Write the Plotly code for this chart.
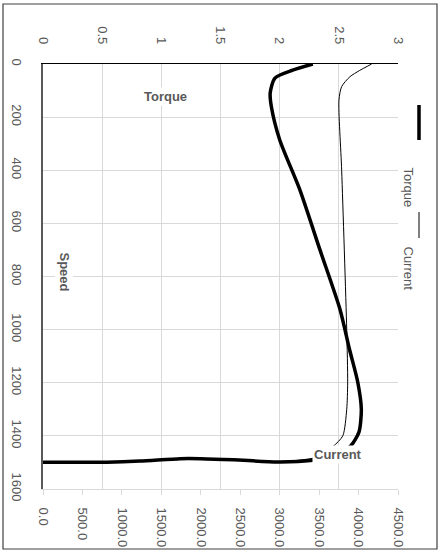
import plotly.graph_objects as go

# Torque curve (speed vs torque)
torque_speed = [0, 23, 53, 109, 161, 285, 473, 699, 924, 1074, 1198, 1300, 1386, 1438, 1462, 1476, 1493, 1498, 1490, 1486, 1486, 1495, 1499, 1499]
torque_vals = [2.28, 2.11, 1.96, 1.92, 1.93, 2.00, 2.17, 2.34, 2.51, 2.59, 2.66, 2.69, 2.67, 2.60, 2.52, 2.43, 2.26, 1.98, 1.61, 1.33, 1.16, 0.82, 0.54, 0.0]

# Current curve (speed vs current)
current_speed = [0, 25, 48, 85, 135, 400, 1000, 1200, 1300, 1400, 1440, 1480, 1491, 1497, 1491, 1486, 1486, 1495, 1499, 1499]
current_vals = [4166, 4010, 3890, 3786, 3752, 3786, 3850, 3862, 3850, 3800, 3676, 3473, 3258, 2966, 2408, 1990, 1610, 1230, 722, 0]

torque_ticks = [0, 0.5, 1, 1.5, 2, 2.5, 3]
current_ticks = [0, 500, 1000, 1500, 2000, 2500, 3000, 3500, 4000, 4500]
speed_ticks = [0, 200, 400, 600, 800, 1000, 1200, 1400, 1600]

FONT = "Liberation Sans"
GRAY = "#595959"
GRID = "#d9d9d9"

fig = go.Figure()
fig.add_trace(go.Scatter(x=torque_vals, y=torque_speed, mode="lines", name="Torque",
                         line=dict(color="black", width=3.5, shape="spline", smoothing=0.7),
                         xaxis="x", yaxis="y", showlegend=False))
fig.add_trace(go.Scatter(x=current_vals, y=current_speed, mode="lines", name="Current",
                         line=dict(color="black", width=1, shape="spline", smoothing=0.7),
                         xaxis="x2", yaxis="y", showlegend=False))

W, H = 442, 553
L, R, T, B = 43, 398, 64, 489
pw, ph = R - L, B - T

def px(p):
    return (p - L) / pw

def py(p):
    return (B - p) / ph

fig.update_layout(
    width=W, height=H,
    margin=dict(l=L, r=W - R, t=T, b=H - B, autoexpand=False),
    paper_bgcolor="white", plot_bgcolor="white",
    font=dict(family=FONT, color=GRAY, size=13),
    xaxis=dict(side="top", range=[0, 3], tickvals=torque_ticks,
               ticktext=[str(v) for v in torque_ticks],
               tickangle=90, showgrid=True, gridcolor=GRID, gridwidth=1,
               showline=True, linecolor="black", linewidth=1.2,
               ticks="", ticklabelstandoff=14, zeroline=False, automargin=False,
               tickfont=dict(family=FONT, color=GRAY, size=13)),
    xaxis2=dict(side="bottom", overlaying="x", range=[0, 4500], tickvals=current_ticks,
                ticktext=["%.1f" % v for v in current_ticks],
                tickangle=90, showgrid=False, showline=True, linecolor=GRID, linewidth=1,
                ticks="outside", ticklen=5, tickcolor=GRID, ticklabelstandoff=10,
                zeroline=False, anchor="y", automargin=False,
                tickfont=dict(family=FONT, color=GRAY, size=13)),
    yaxis=dict(range=[1600, 0], tickvals=speed_ticks,
               ticktext=[str(v) for v in speed_ticks],
               tickangle=90, showgrid=True, gridcolor=GRID, gridwidth=1,
               showline=True, linecolor=GRAY, linewidth=1.5, ticks="",
               ticklabelstandoff=14, zeroline=False, automargin=False,
               tickfont=dict(family=FONT, color=GRAY, size=13)),
)

shapes = [
    dict(type="rect", xref="paper", yref="paper", x0=px(3), x1=px(437), y0=py(549), y1=py(4),
         line=dict(color="#404040", width=1.2), fillcolor="rgba(0,0,0,0)", layer="below"),
    dict(type="line", xref="paper", yref="paper", x0=px(419), x1=px(419), y0=py(105), y1=py(140),
         line=dict(color="black", width=3.5)),
    dict(type="line", xref="paper", yref="paper", x0=px(419), x1=px(419), y0=py(212), y1=py(238),
         line=dict(color="black", width=1)),
]
fig.update_layout(shapes=shapes)

annotations = [
    dict(text="Torque", xref="paper", yref="paper", x=px(418), y=py(165), showarrow=False,
         textangle=90, font=dict(family=FONT, size=13, color=GRAY)),
    dict(text="Current", xref="paper", yref="paper", x=px(418), y=py(268), showarrow=False,
         textangle=90, font=dict(family=FONT, size=13, color=GRAY)),
    dict(text="<b>Torque</b>", xref="paper", yref="paper", x=px(142), y=py(87), showarrow=False,
         bgcolor="white", font=dict(family=FONT, size=13, color=GRAY)),
    dict(text="<b>Speed</b>", xref="paper", yref="paper", x=px(55), y=py(272), showarrow=False,
         textangle=90, bgcolor="white", font=dict(family=FONT, size=13, color=GRAY)),
    dict(text="<b>Current</b>", xref="paper", yref="paper", x=px(364), y=py(464), showarrow=False,
         bgcolor="white", font=dict(family=FONT, size=13, color=GRAY)),
]
fig.update_layout(annotations=annotations)

fig.write_html("out.html", config={"displayModeBar": False},
               post_script="document.body.style.margin='0';document.body.style.overflow='hidden';")
